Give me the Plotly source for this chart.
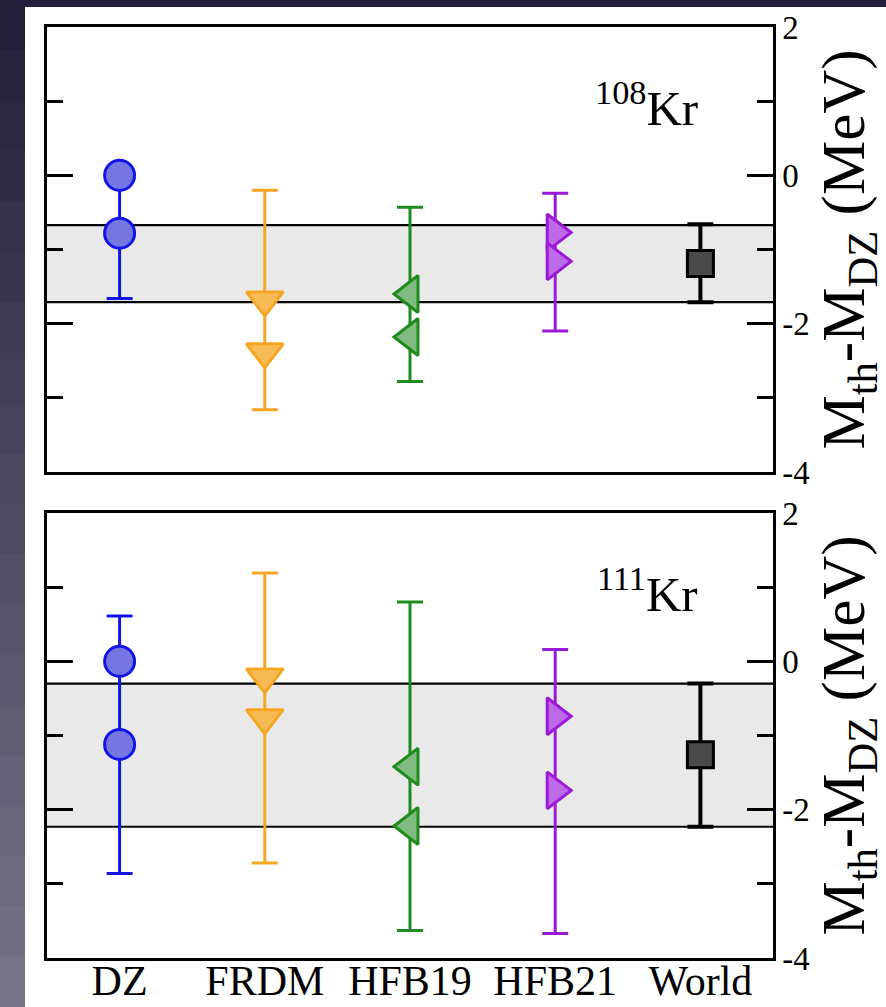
import plotly.graph_objects as go
from plotly.subplots import make_subplots

# ---------------- data ----------------
models = ["DZ", "FRDM", "HFB19", "HFB21", "World"]
model_x = [1, 2, 3, 4, 5]
x_range = [0.5, 5.5]
y_range = [-4, 2]

# 108Kr panel (values in MeV)
kr108_first = [0.00, -1.68, -1.60, -0.77, -1.19]
kr108_second = [-0.78, -2.38, -2.18, -1.16, None]
kr108_err_hi = [0.00, -0.20, -0.43, -0.24, -0.66]
kr108_err_lo = [-1.66, -3.16, -2.78, -2.10, -1.71]
kr108_band = [-0.67, -1.71]

# 111Kr panel
kr111_first = [0.00, -0.21, -1.42, -0.74, -1.26]
kr111_second = [-1.12, -0.76, -2.22, -1.74, None]
kr111_err_hi = [0.61, 1.19, 0.80, 0.16, -0.30]
kr111_err_lo = [-2.86, -2.72, -3.63, -3.67, -2.23]
kr111_band = [-0.30, -2.23]

y_tick_vals = [2, 0, -2, -4]
y_tick_text = ["2", "0", "-2", "-4"]
panel_labels = ["<sup>108</sup>Kr", "<sup>111</sup>Kr"]

# ---------------- styles ----------------
line_colors = ["#1414e6", "#f5a623", "#1f8a1f", "#9a1ad8", "#000000"]
fill_colors = ["#7676e0", "#f7bb55", "#80bb80", "#bd6ae8", "#4a4a4a"]
symbols = ["circle", "triangle-down", "triangle-left", "triangle-right", "square"]
sizes = [30, 32, 32, 32, 26]
FONT = "Liberation Serif"

W, H = 886, 1007
ML, MR, MT, MB = 47, 113, 27, 49
PW = W - ML - MR
PH = H - MT - MB

fig = make_subplots(rows=2, cols=1, vertical_spacing=41 / PH)


def px_x(p):
    return (p - ML) / PW


def px_y(p):
    return (H - MB - p) / PH


# background: slide-like dark frame with gradient strip at left
fig.add_shape(type="rect", xref="paper", yref="paper",
              x0=px_x(25), x1=px_x(W + 5), y0=px_y(7), y1=px_y(H + 5),
              fillcolor="white", line=dict(width=0), layer="below")
top_rgb = (30, 30, 56)
bot_rgb = (118, 118, 138)
nseg = 20
for k in range(nseg):
    t = (k + 0.5) / nseg
    c = tuple(int(round(top_rgb[j] + (bot_rgb[j] - top_rgb[j]) * t)) for j in range(3))
    y0p = k * H / nseg
    y1p = (k + 1) * H / nseg
    fig.add_shape(type="rect", xref="paper", yref="paper",
                  x0=px_x(-5), x1=px_x(25), y0=px_y(y1p + 1), y1=px_y(y0p),
                  fillcolor="rgb(%d,%d,%d)" % c, line=dict(width=0), layer="below")

panels = [
    (kr108_first, kr108_second, kr108_err_hi, kr108_err_lo, kr108_band),
    (kr111_first, kr111_second, kr111_err_hi, kr111_err_lo, kr111_band),
]

for r, (first, second, hi, lo, band) in enumerate(panels, start=1):
    # experimental band
    fig.add_shape(type="rect", xref="x", yref="y", x0=x_range[0], x1=x_range[1],
                  y0=band[1], y1=band[0], fillcolor="#e9e9e9",
                  line=dict(width=0), layer="below", row=r, col=1)
    for yb in band:
        fig.add_shape(type="line", xref="x", yref="y", x0=x_range[0], x1=x_range[1],
                      y0=yb, y1=yb, line=dict(color="black", width=2.2),
                      layer="below", row=r, col=1)
    for i, m in enumerate(models):
        mid = (hi[i] + lo[i]) / 2
        half = (hi[i] - lo[i]) / 2
        lw = 4 if m == "World" else 3
        # error bar
        fig.add_trace(go.Scatter(
            x=[model_x[i]], y=[mid], mode="markers",
            marker=dict(size=1, opacity=0),
            error_y=dict(type="data", array=[half], symmetric=True,
                         color=line_colors[i], thickness=lw, width=13),
            showlegend=False, hoverinfo="skip"), row=r, col=1)
        ys = [v for v in (first[i], second[i]) if v is not None]
        fig.add_trace(go.Scatter(
            x=[model_x[i]] * len(ys), y=ys, mode="markers",
            marker=dict(symbol=symbols[i], size=sizes[i], color=fill_colors[i],
                        line=dict(color=line_colors[i], width=3)),
            showlegend=False, name=m), row=r, col=1)
    fig.add_annotation(text=panel_labels[r - 1], xref="x domain" if r == 1 else "x2 domain",
                       yref="y domain" if r == 1 else "y2 domain",
                       x=0.90, y=0.825, xanchor="right", yanchor="middle",
                       showarrow=False, font=dict(family=FONT, size=49, color="black"))

for r in (1, 2):
    fig.update_xaxes(range=x_range, tickvals=model_x, ticktext=models,
                     ticks="", ticklen=0, ticklabelstandoff=-16,
                     showticklabels=(r == 2), automargin=False,
                     tickfont=dict(family=FONT, size=42, color="black"),
                     showline=True, linecolor="black", linewidth=2.5, mirror=True,
                     showgrid=False, zeroline=False,
                     row=r, col=1)
    fig.update_yaxes(range=y_range, side="right", tickvals=y_tick_vals, ticktext=y_tick_text,
                     ticks="inside", ticklen=26, tickwidth=2.5, tickcolor="black",
                     minor=dict(dtick=1, tick0=0, ticks="inside", ticklen=16,
                                tickwidth=2.5, tickcolor="black"),
                     tickfont=dict(family=FONT, size=33, color="black"),
                     title=dict(text="M<sub>th</sub>-M<sub>DZ</sub> (MeV)",
                                font=dict(family=FONT, size=61, color="black"),
                                standoff=10),
                     automargin=False,
                     showline=True, linecolor="black", linewidth=2.5,
                     mirror="ticks", showgrid=False, zeroline=False,
                     row=r, col=1)

fig.update_layout(width=W, height=H, margin=dict(l=ML, r=MR, t=MT, b=MB, autoexpand=False),
                  paper_bgcolor="rgb(32,32,58)", plot_bgcolor="rgba(0,0,0,0)",
                  showlegend=False)

fig.write_html("out.html", config={"displayModeBar": False},
               post_script="document.body.style.margin='0';")
